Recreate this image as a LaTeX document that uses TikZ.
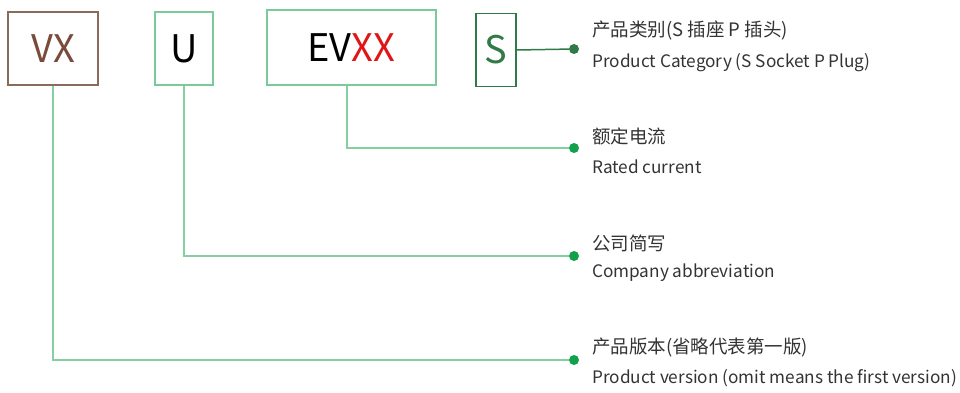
\documentclass[tikz,border=0pt]{standalone}
\usepackage{fontspec}
\newfontfamily\cjk{Noto Sans CJK SC}
\usetikzlibrary{positioning}
\definecolor{boxgreen}{HTML}{7CC99B}
\definecolor{linegreen}{HTML}{86CFA0}
\definecolor{dotgreen}{HTML}{12A04A}
\definecolor{darkgreen}{HTML}{2F7A47}
\definecolor{vxbrown}{HTML}{7A4A3A}
\definecolor{boxbrown}{HTML}{8A6A5A}
\definecolor{xxred}{HTML}{E01515}
\definecolor{txtgray}{HTML}{333333}

\begin{document}
\begin{tikzpicture}[x=1pt,y=-1pt, every node/.style={font=\cjk},
    codebox/.style={draw=boxgreen, line width=1.2pt, inner sep=0pt, font=\cjk\fontsize{38}{40}\selectfont},
    conn/.style={linegreen, line width=1.5pt},
    dot/.style={circle, fill=dotgreen, inner sep=0pt, minimum size=10pt},
    cn/.style={anchor=west, text=txtgray, inner sep=0pt, font=\cjk\fontsize{18.5}{20}\selectfont},
    en/.style={anchor=west, text=txtgray, inner sep=0pt, font=\cjk\fontsize{17.2}{20}\selectfont}]
    \useasboundingbox (0,0) rectangle (960,393);
    % code boxes
    \node[codebox, draw=boxbrown, text=vxbrown, minimum width=90pt, minimum height=73pt] (vx) at (53,48.5) {VX};
    \node[codebox, minimum width=58pt, minimum height=73pt] (u) at (184,48.5) {U};
    \node[codebox, minimum width=169pt, minimum height=75pt] (evxx) at (351.5,47.5) {EV\textcolor{xxred}{XX}};
    \node[codebox, draw=darkgreen, text=darkgreen, minimum width=40pt, minimum height=73pt] (s) at (496,50) {S};
    % end dots
    \node[dot, fill=darkgreen] (catdot) at (574,49) {};
    \node[dot] (curdot) at (574,148) {};
    \node[dot] (compdot) at (574,256) {};
    \node[dot] (verdot) at (574,360) {};
    % connectors
    \draw[conn, darkgreen] (s.east) -- (catdot);
    \draw[conn] ([xshift=-4.5pt]evxx.south) |- (curdot);
    \draw[conn] (u.south) |- (compdot);
    \draw[conn] (vx.south) |- (verdot);
    % labels
    \node[cn] (catcn) at (592,30) {产品类别(S 插座 P 插头)};
    \node[en] (caten) at (592,63) {Product Category (S Socket P Plug)};
    \node[cn] (curcn) at (592,136) {额定电流};
    \node[en] (curen) at (592,167) {Rated current};
    \node[cn] (compcn) at (592,243) {公司简写};
    \node[en] (compen) at (592,273) {Company abbreviation};
    \node[cn] (vercn) at (592,347) {产品版本(省略代表第一版)};
    \node[en] (veren) at (592,378) {Product version (omit means the first version)};
\end{tikzpicture}
\end{document}
